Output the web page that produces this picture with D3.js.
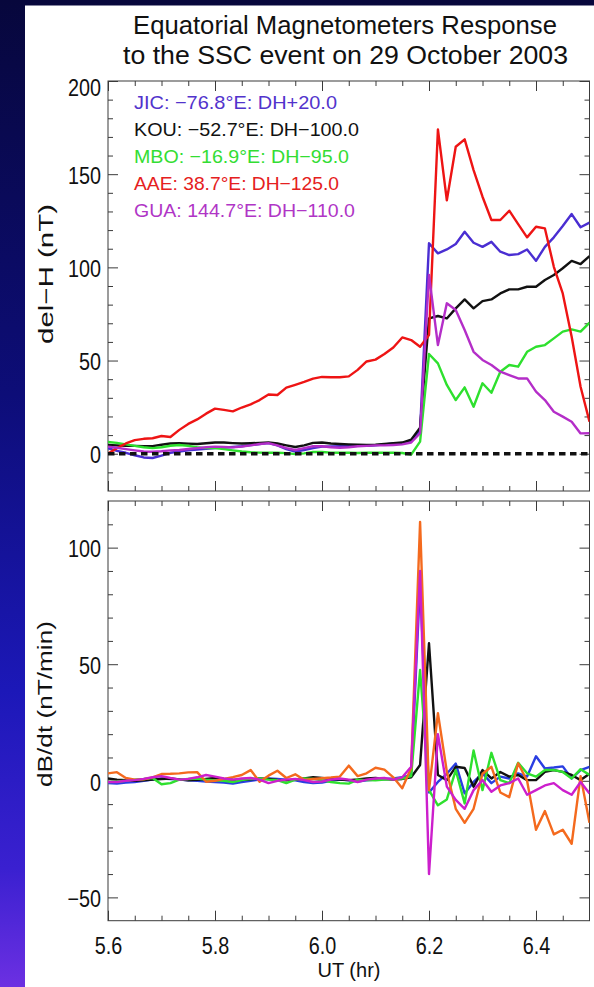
<!DOCTYPE html>
<html>
<head>
<meta charset="utf-8">
<script src="https://cdn.jsdelivr.net/npm/d3@7"></script>
<style>
  html, body { margin: 0; padding: 0; background: #fff; }
  svg { display: block; }
  text { font-family: "Liberation Sans", Arial, Helvetica, sans-serif; fill: #111; }
</style>
</head>
<body>
<svg id="chart" width="594" height="987"></svg>
<script>
// ---- Time base: minutes after 5.6 UT (one-minute samples) ----
const startUT = 5.6;
const minuteOffsets = [0,1,2,3,4,5,6,7,8,9,10,11,12,13,14,15,16,17,18,19,20,21,22,23,24,25,26,27,28,29,
  30,31,32,33,34,35,36,37,38,39,40,41,42,43,44,45,46,47,48,49,50,51,52,53,54];

// ---- Station labels ----
const stationLabels = [
  "JIC: \u221276.8\u00B0E: DH+20.0",
  "KOU: \u221252.7\u00B0E: DH\u2212100.0",
  "MBO: \u221216.9\u00B0E: DH\u221295.0",
  "AAE: 38.7\u00B0E: DH\u2212125.0",
  "GUA: 144.7\u00B0E: DH\u2212110.0"
];

// ---- del-H (nT), baseline-shifted ----
const jicDH = [3.0,1.5,0.5,-0.8,-2.0,-2.3,-1.0,0.5,1.2,1.8,2.2,2.6,3.0,3.3,3.6,4.0,4.6,5.2,5.7,4.5,
  2.5,1.1,2.0,3.0,3.8,3.9,4.0,4.1,4.2,4.2,4.5,5.0,5.5,5.8,6.4,12.7,
  112.9,107.5,109.6,112.5,119.1,113.2,111.0,113.7,108.4,106.6,107.1,109.6,103.5,111.0,116.1,122.2,128.6,121.5,124.0];
const kouDH = [4.7,4.5,4.3,4.2,4.1,4.1,4.8,5.5,5.6,5.4,5.2,5.6,6.0,6.0,5.7,5.5,5.6,5.8,6.0,5.5,
  4.5,3.6,4.5,5.8,6.0,5.5,5.2,5.0,4.8,4.7,4.8,5.3,5.7,6.0,7.5,14.0,
  72.6,73.9,72.6,78.0,82.8,78.0,81.9,82.8,86.0,88.2,88.2,89.6,89.6,93.2,95.9,99.5,103.5,101.8,106.0];
const mboDH = [6.3,5.8,5.0,4.2,3.5,3.0,3.5,4.3,4.7,4.2,3.5,3.0,3.0,2.5,1.8,1.2,0.8,0.6,0.5,0.5,
  0.3,-0.2,0.2,1.0,0.9,0.6,0.5,0.5,0.4,0.5,0.5,0.6,0.5,0.4,-0.5,6.5,
  53.5,48.5,36.9,28.8,35.6,25.2,37.8,32.7,44.0,47.6,46.7,54.7,57.4,58.3,61.9,65.5,66.7,65.5,70.3];
const aaeDH = [0,3.0,5.5,7.3,8.0,8.3,9.5,9.0,12.8,16.0,18.4,21.5,24.2,23.5,22.7,24.8,26.5,28.8,31.8,31.5,
  35.5,37.0,38.5,40.3,41.2,41.0,41.0,41.5,45.0,49.5,50.5,53.5,57.0,62.4,61.0,57.4,63.7,
  174.0,136.0,164.7,168.7,152.2,137.9,125.4,125.4,130.4,123.2,116.1,121.8,120.9,100.3,86.0,62.8,35.9,17.2];
const guaDH = [3.8,3.2,2.5,1.8,1.2,1.1,1.3,1.8,2.0,2.5,3.0,3.5,3.8,3.6,3.4,3.8,4.5,5.2,5.7,4.5,
  3.0,2.0,3.0,4.0,4.0,3.5,3.2,3.5,4.0,4.2,4.5,4.5,4.7,5.0,6.0,11.0,
  95.9,58.3,80.7,77.1,66.4,54.7,50.3,47.6,44.0,42.2,40.4,40.4,33.3,28.8,22.5,19.9,17.2,10.9,11.0];

// ---- dB/dt (nT/min) ----
const jicDBDT = [-1,-1.2,-0.8,-0.5,0,0.5,1,0.8,0.5,0.2,0,-0.3,-0.5,-0.8,-1.2,-0.5,0,0.5,1,0.8,
  0.5,0.2,-0.5,-1,-0.8,0,0.5,0.2,-0.3,0.2,0.5,0.8,1,1.5,2.5,85,
  -5,-0.5,3,7.4,-5.4,-0.5,3.2,-1,1.8,1,3.2,1.8,10.5,5.3,5.7,6.2,1,4.6,6];
const kouDBDT = [1,0.5,0.3,0,0.2,0.5,0.8,1,0.6,0.2,0.4,0.8,1.2,0.8,0.5,0.3,0.6,1,0.8,0.4,
  0.2,0.5,1,1.5,1.2,0.8,0.5,0.3,0.6,1,1.2,0.8,0.5,0.8,1.5,6.8,
  59,2.5,0.3,6,5.5,-2.5,4.6,1,3.8,1.8,2.5,0.3,0.3,3.8,4.6,3.8,2.5,0.3,3];
const mboDBDT = [-0.5,-0.3,0,0.5,0.8,1.2,-1.5,-1,0.5,0.8,1,0.5,0.2,0,-0.5,0.3,0.8,1,0.5,0.3,
  -1,0.5,1,0.8,0.2,-0.5,-1,-1.2,0.5,0.3,0.2,0.5,0.8,1,2,47.5,
  -4,-10.5,-8,4.6,-9.7,13,-4,12,0.3,-1,7.7,3.2,1.8,4.6,4.6,3.8,1,5,2.5];
const aaeDBDT = [3.2,3.7,1.2,0.5,0.6,1.5,2.9,3,3.2,3.6,3.7,-0.4,0,0.8,1.6,2.5,4.6,-0.4,2.2,4.3,
  1.2,2.8,0.4,0.8,1.1,1.4,1.8,6.5,2,3.2,5.6,4.8,1.5,-3.2,5.5,111,
  -4,29,4,-12,-18,-12,3,6,-5,-7,7.5,0,-21,-13,-23,-21,-27,2,-18];
const guaDBDT = [-0.5,-0.5,0,0.3,0.8,1.5,2,1.2,0.5,0.8,1.5,2.5,1.8,1,0.5,1,1.2,0.5,-1,0,
  0.5,0.8,0.3,-0.5,-0.3,0.5,1,0.5,-0.5,0.5,1,1.2,0.5,1.5,6,90,
  -40,20,-2.5,-8.2,-12,-4,0.3,-4.7,-2,-1,1,-6,-4,-2,-1,-4,-6,-0.5,-5.4];

// ---- Axis ticks ----
const xMajorTicks = [5.6, 5.8, 6.0, 6.2, 6.4];
const xMinorTicks = [5.65,5.7,5.75,5.85,5.9,5.95,6.05,6.1,6.15,6.25,6.3,6.35,6.45];
const dhMajorTicks = [0, 50, 100, 150, 200];
const dhMinorTicks = [-10,10,20,30,40,60,70,80,90,110,120,130,140,160,170,180,190];
const dbMajorTicks = [-50, 0, 50, 100];
const dbMinorTicks = [-40,-30,-20,-10,10,20,30,40,60,70,80,90,110];

// ---- Layout ----
const W = 594, H = 987;
const plotLeft = 108, plotRight = 589.5;
const frameColor = "#3a3a3a";
const ut = minuteOffsets.map(m => startUT + m / 60);

const svg = d3.select("#chart");
const defs = svg.append("defs");

// slide background
const grad = defs.append("linearGradient").attr("id", "slideBg")
  .attr("x1", 0).attr("y1", 0).attr("x2", 0).attr("y2", 1);
[["0%", "#07073c"], ["40%", "#0d0d78"], ["70%", "#1c18b8"], ["88%", "#3a20d0"], ["100%", "#6c30e2"]]
  .forEach(([o, c]) => grad.append("stop").attr("offset", o).attr("stop-color", c));
svg.append("rect").attr("width", W).attr("height", H).attr("fill", "url(#slideBg)");
svg.append("rect").attr("x", 25).attr("y", 5.5).attr("width", W - 25).attr("height", H - 5.5).attr("fill", "#fff");

const x = d3.scaleLinear().domain([5.6, 6.5]).range([plotLeft, plotRight]);

// squeeze tick-label glyphs a little horizontally
function condense(sel, f) {
  sel.each(function () {
    const w = this.getComputedTextLength();
    d3.select(this).attr("textLength", w * f).attr("lengthAdjust", "spacingAndGlyphs");
  });
}

function drawPanel(p) {
  const y = d3.scaleLinear().domain(p.domain).range([p.bottom, p.top]);
  const g = svg.append("g");
  const clipId = p.id + "-clip";
  defs.append("clipPath").attr("id", clipId).append("rect")
    .attr("x", plotLeft).attr("y", p.top).attr("width", plotRight - plotLeft).attr("height", p.bottom - p.top);

  const styleAxis = (ag) => {
    ag.select(".domain").remove();
    ag.attr("font-family", null).attr("font-size", null);
    ag.selectAll(".tick line").attr("stroke", frameColor).attr("stroke-width", 1);
  };

  // minor ticks on all four sides
  g.append("g").attr("transform", `translate(${plotLeft},0)`)
    .call(d3.axisLeft(y).tickValues(p.minor).tickSize(-5).tickFormat("")).call(styleAxis);
  g.append("g").attr("transform", `translate(${plotRight},0)`)
    .call(d3.axisRight(y).tickValues(p.minor).tickSize(-5).tickFormat("")).call(styleAxis);
  g.append("g").attr("transform", `translate(0,${p.top})`)
    .call(d3.axisTop(x).tickValues(xMinorTicks).tickSize(-5).tickFormat("")).call(styleAxis);
  g.append("g").attr("transform", `translate(0,${p.bottom})`)
    .call(d3.axisBottom(x).tickValues(xMinorTicks).tickSize(-5).tickFormat("")).call(styleAxis);

  // major ticks
  const left = g.append("g").attr("transform", `translate(${plotLeft},0)`)
    .call(d3.axisLeft(y).tickValues(p.major).tickSize(-10).tickPadding(7).tickFormat(d3.format("d")))
    .call(styleAxis);
  left.selectAll("text").attr("font-size", 23).attr("fill", "#111")
    .attr("dy", d => (y(d) - p.top < 9 ? "0.62em" : "0.4em"));
  condense(left.selectAll("text"), 0.86);
  g.append("g").attr("transform", `translate(${plotRight},0)`)
    .call(d3.axisRight(y).tickValues(p.major).tickSize(-10).tickFormat("")).call(styleAxis);
  g.append("g").attr("transform", `translate(0,${p.top})`)
    .call(d3.axisTop(x).tickValues(xMajorTicks).tickSize(-10).tickFormat("")).call(styleAxis);
  const bottom = g.append("g").attr("transform", `translate(0,${p.bottom})`)
    .call(d3.axisBottom(x).tickValues(xMajorTicks).tickSize(-10).tickPadding(17)
      .tickFormat(p.xLabels ? d3.format(".1f") : ""))
    .call(styleAxis);
  if (p.xLabels) {
    bottom.selectAll("text").attr("font-size", 23).attr("fill", "#111");
    condense(bottom.selectAll("text"), 0.86);
  }

  // frame
  g.append("rect").attr("x", plotLeft).attr("y", p.top)
    .attr("width", plotRight - plotLeft).attr("height", p.bottom - p.top)
    .attr("fill", "none").attr("stroke", frameColor).attr("stroke-width", 1);

  // data
  const line = d3.line().x((d, i) => x(ut[i])).y(d => y(d));
  const lines = g.append("g").attr("clip-path", `url(#${clipId})`);
  p.series.forEach(s => {
    lines.append("path").datum(s.values).attr("d", line)
      .attr("fill", "none").attr("stroke", s.color).attr("stroke-width", 2.4)
      .attr("stroke-linejoin", "round");
  });
  if (p.zeroLine) {
    lines.append("line").attr("x1", plotLeft).attr("x2", plotRight)
      .attr("y1", y(0)).attr("y2", y(0))
      .attr("stroke", "#111").attr("stroke-width", 3.4).attr("stroke-dasharray", "6.5,4.5");
  }
  return y;
}

// ---- Upper panel: del-H ----
drawPanel({
  id: "dh", top: 81, bottom: 491, domain: [-20, 200],
  major: dhMajorTicks, minor: dhMinorTicks, xLabels: false, zeroLine: true,
  series: [
    { values: jicDH, color: "#4a2ed2" },
    { values: kouDH, color: "#111111" },
    { values: mboDH, color: "#2ee02e" },
    { values: aaeDH, color: "#ee1414" },
    { values: guaDH, color: "#b42ec8" }
  ]
});

// ---- Lower panel: dB/dt ----
drawPanel({
  id: "db", top: 501, bottom: 920.7, domain: [-60, 120],
  major: dbMajorTicks, minor: dbMinorTicks, xLabels: true, zeroLine: false,
  series: [
    { values: jicDBDT, color: "#2a3ee2" },
    { values: kouDBDT, color: "#111111" },
    { values: mboDBDT, color: "#2ee02e" },
    { values: aaeDBDT, color: "#f46a1e" },
    { values: guaDBDT, color: "#cc1fcc" }
  ]
});

// ---- Title ----
svg.append("text").attr("x", 345).attr("y", 34).attr("text-anchor", "middle")
  .attr("font-size", 25).attr("textLength", 424).attr("lengthAdjust", "spacingAndGlyphs")
  .text("Equatorial Magnetometers Response");
svg.append("text").attr("x", 345.5).attr("y", 64).attr("text-anchor", "middle")
  .attr("font-size", 25).attr("textLength", 445).attr("lengthAdjust", "spacingAndGlyphs")
  .text("to the SSC event on 29 October 2003");

// ---- Station legend ----
const legendColors = ["#5233cc", "#111111", "#33dd33", "#e52020", "#b035c6"];
const legendWidths = [203, 225, 215, 205, 221];
stationLabels.forEach((t, i) => {
  svg.append("text").attr("x", 134).attr("y", 108.5 + i * 27)
    .attr("font-size", 18.5).attr("textLength", legendWidths[i]).attr("lengthAdjust", "spacingAndGlyphs")
    .style("fill", legendColors[i]).text(t);
});

// ---- Axis titles ----
svg.append("text").attr("transform", "translate(53,274) rotate(-90)").attr("text-anchor", "middle")
  .attr("font-size", 21).attr("textLength", 140).attr("lengthAdjust", "spacingAndGlyphs")
  .text("del\u2212H (nT)");
svg.append("text").attr("transform", "translate(52,704) rotate(-90)").attr("text-anchor", "middle")
  .attr("font-size", 21).attr("textLength", 166).attr("lengthAdjust", "spacingAndGlyphs")
  .text("dB/dt (nT/min)");
svg.append("text").attr("x", 349).attr("y", 977).attr("text-anchor", "middle")
  .attr("font-size", 20).text("UT (hr)");
</script>
</body>
</html>
